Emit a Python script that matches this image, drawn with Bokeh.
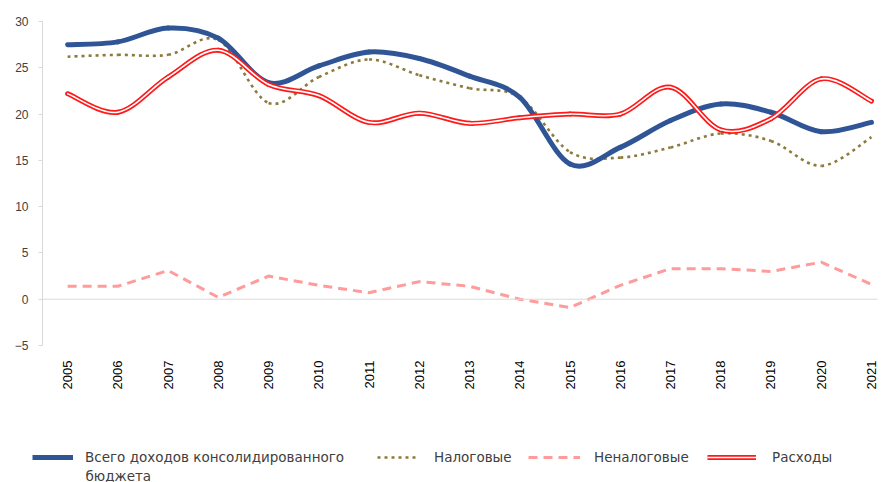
from bokeh.plotting import figure
from bokeh.layouts import column
from bokeh.models import Range1d, FixedTicker, Legend, LegendItem, Span, Label, ColumnDataSource
from bokeh.embed import file_html
from bokeh.resources import INLINE

years = list(range(2005, 2022))
year_labels = [str(y) for y in years]

total_rev = [27.5, 27.8, 29.3, 28.2, 23.4, 25.2, 26.7, 26.0, 24.1, 21.8, 14.6, 16.4, 19.3, 21.1, 20.2, 18.1, 19.1]
tax_rev = [26.2, 26.4, 26.4, 28.0, 21.2, 24.0, 25.9, 24.2, 22.8, 21.8, 15.9, 15.3, 16.4, 17.9, 17.1, 14.4, 17.5]
nontax_rev = [1.4, 1.4, 3.1, 0.2, 2.5, 1.5, 0.7, 1.9, 1.4, 0.0, -0.9, 1.5, 3.3, 3.3, 3.0, 4.0, 1.6]
expenses = [22.2, 20.2, 24.0, 26.9, 23.2, 22.0, 19.1, 20.1, 19.0, 19.6, 20.0, 20.0, 22.9, 18.3, 19.5, 23.8, 21.4]

y_ticks = [-5, 0, 5, 10, 15, 20, 25, 30]

labels = ["Всего доходов консолидированного", "бюджета", "Налоговые", "Неналоговые", "Расходы"]

BLUE = "#2F5597"
BROWN = "#8C7A3C"
PINK = "#FF9B9B"
RED = "#FF1A1A"
FONT = "DejaVu Sans"
NAN = float("nan")


def smooth_segments(xs, ys):
    """Bezier segments through the data points (spreadsheet-style smoothing)."""
    n = len(xs)
    d = dict(x0=[], y0=[], x1=[], y1=[], cx0=[], cy0=[], cx1=[], cy1=[])
    for i in range(n - 1):
        a = i - 1 if i > 0 else i
        b = i + 2 if i + 2 < n else i + 1
        d["x0"].append(xs[i]); d["y0"].append(ys[i])
        d["x1"].append(xs[i + 1]); d["y1"].append(ys[i + 1])
        d["cx0"].append(xs[i] + (xs[i + 1] - xs[a]) / 6)
        d["cy0"].append(ys[i] + (ys[i + 1] - ys[a]) / 6)
        d["cx1"].append(xs[i + 1] - (xs[b] - xs[i]) / 6)
        d["cy1"].append(ys[i + 1] - (ys[b] - ys[i]) / 6)
    return ColumnDataSource(d)


p = figure(frame_width=835, frame_height=324,
           x_range=Range1d(2004.5, 2021.12), y_range=Range1d(-5, 30),
           output_backend="svg", toolbar_location=None,
           min_border_left=42, min_border_right=4, min_border_top=21, min_border_bottom=55)
p.outline_line_color = None
p.xgrid.visible = False
p.ygrid.visible = False
p.background_fill_color = "white"

# axes
p.yaxis.ticker = FixedTicker(ticks=y_ticks)
p.yaxis.axis_line_color = "#D9D9D9"
p.yaxis.major_tick_line_color = "#D9D9D9"
p.yaxis.major_tick_out = 4
p.yaxis.major_tick_in = 0
p.yaxis.minor_tick_line_color = None
p.yaxis.major_label_text_font = "Liberation Sans"
p.yaxis.major_label_text_font_size = "12px"
p.yaxis.major_label_text_color = "#404040"
p.yaxis.major_label_standoff = 10

p.xaxis.ticker = FixedTicker(ticks=years)
p.xaxis.major_label_overrides = {y: s for y, s in zip(years, year_labels)}
p.xaxis.axis_line_color = None
p.xaxis.major_tick_line_color = None
p.xaxis.minor_tick_line_color = None
p.xaxis.major_label_orientation = 1.5708
p.xaxis.major_label_text_font = "Liberation Sans"
p.xaxis.major_label_text_font_size = "13px"
p.xaxis.major_label_text_color = "#000000"
p.xaxis.major_label_standoff = 9

p.add_layout(Span(location=0, dimension="width", line_color="#D9D9D9", line_width=1))

# series
p.bezier(x0="x0", y0="y0", x1="x1", y1="y1", cx0="cx0", cy0="cy0", cx1="cx1", cy1="cy1",
         source=smooth_segments(years, tax_rev), line_color=BROWN, line_width=2.6,
         line_dash="3 4")
p.line(years, nontax_rev, line_color=PINK, line_width=3, line_dash="9 6")
p.bezier(x0="x0", y0="y0", x1="x1", y1="y1", cx0="cx0", cy0="cy0", cx1="cx1", cy1="cy1",
         source=smooth_segments(years, total_rev), line_color=BLUE, line_width=5, line_cap="round")
src_exp = smooth_segments(years, expenses)
p.bezier(x0="x0", y0="y0", x1="x1", y1="y1", cx0="cx0", cy0="cy0", cx1="cx1", cy1="cy1",
         source=src_exp, line_color=RED, line_width=5, line_cap="round")
p.bezier(x0="x0", y0="y0", x1="x1", y1="y1", cx0="cx0", cy0="cy0", cx1="cx1", cy1="cy1",
         source=src_exp, line_color="white", line_width=1.6, line_cap="round")

# ---- legend strip (separate figure so nothing is clipped) ----
q = figure(width=881, height=82, x_range=Range1d(0, 1), y_range=Range1d(0, 1),
           output_backend="svg", toolbar_location=None,
           min_border_left=0, min_border_right=0, min_border_top=0, min_border_bottom=0,
           x_axis_type=None, y_axis_type=None)
q.outline_line_color = None
q.xgrid.visible = False
q.ygrid.visible = False

lg_blue = q.line(x=[NAN], y=[NAN], line_color=BLUE, line_width=5)
lg_brown = q.line(x=[NAN], y=[NAN], line_color=BROWN, line_width=2.6, line_dash="3 4")
lg_pink = q.line(x=[NAN], y=[NAN], line_color=PINK, line_width=3, line_dash="9 6")
lg_red = q.line(x=[NAN], y=[NAN], line_color=RED, line_width=5)
lg_red_in = q.line(x=[NAN], y=[NAN], line_color="white", line_width=1.6)


def make_legend(label, renderers, x, width, standoff):
    leg = Legend(items=[LegendItem(label=label, renderers=renderers)],
                 location=(x, 17), orientation="horizontal",
                 border_line_alpha=0, background_fill_alpha=0, padding=0, margin=0,
                 glyph_width=width, glyph_height=16, label_height=16,
                 label_standoff=standoff, label_text_font=FONT,
                 label_text_font_size="13.5px", label_text_color="#404040")
    q.add_layout(leg)


make_legend(labels[0], [lg_blue], 32, 41, 12)
make_legend(labels[2], [lg_brown], 377, 42, 15)
make_legend(labels[3], [lg_pink], 528, 52, 14)
make_legend(labels[4], [lg_red, lg_red_in], 707, 49, 16)

q.add_layout(Label(x=85, y=7, x_units="screen", y_units="screen", text=labels[1],
                   text_font=FONT, text_font_size="13.5px", text_color="#404040",
                   text_baseline="middle"))

layout = column(p, column(q), spacing=0)
open("out.html", "w").write(file_html(layout, INLINE))
